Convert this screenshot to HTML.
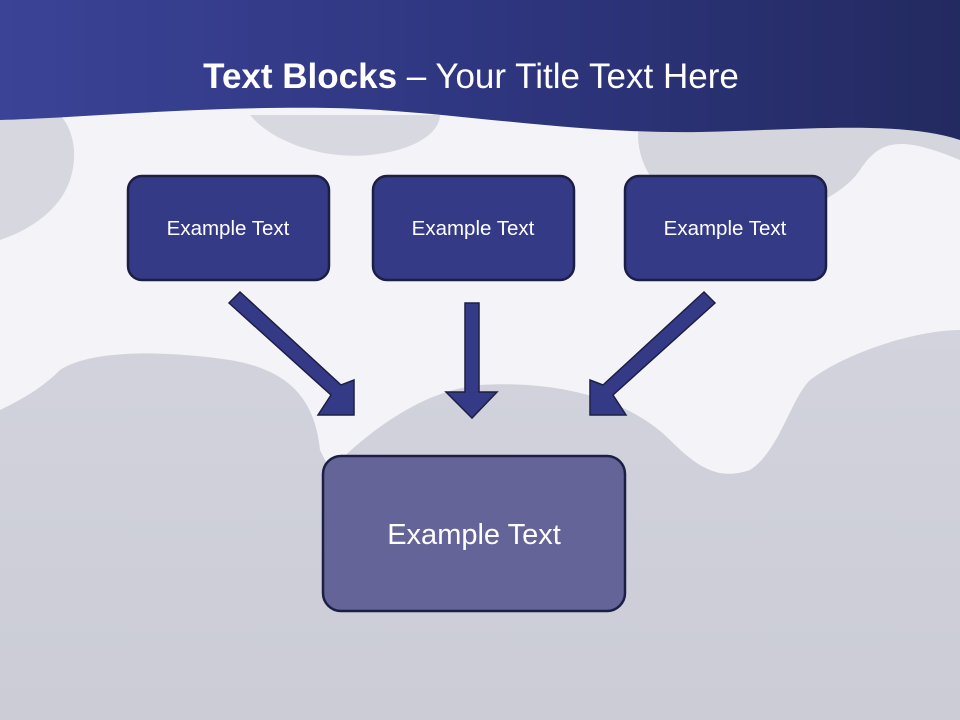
<!DOCTYPE html>
<html><head><style>
body{margin:0;width:960px;height:720px;overflow:hidden;background:#f4f4f8;font-family:"Liberation Sans",sans-serif}
</style></head><body>
<svg width="960" height="720" viewBox="0 0 960 720" xmlns="http://www.w3.org/2000/svg" style="position:absolute;left:0;top:0">
<defs>
<linearGradient id="ban" x1="0" y1="0" x2="1" y2="0">
<stop offset="0" stop-color="#3a4396"/><stop offset="0.5" stop-color="#2f3680"/><stop offset="1" stop-color="#232a60"/>
</linearGradient>
<linearGradient id="blob" x1="0" y1="0" x2="0" y2="1">
<stop offset="0" stop-color="#d2d3dc"/><stop offset="1" stop-color="#cbccd6"/>
</linearGradient>
</defs>
<rect width="960" height="720" fill="#f4f4f8"/>
<path d="M0 410 C20 400 40 390 60 370 C90 350 160 350 230 360 C290 370 315 400 320 450 L330 470 C380 420 430 390 480 385 C560 380 630 400 670 440 C700 470 720 480 750 470 C780 450 790 400 810 380 C850 350 920 330 960 330 L960 720 L0 720 Z" fill="url(#blob)"/>
<path d="M0 115 L0 240 C30 230 60 210 70 180 C80 150 70 125 60 115 Z" fill="#d6d7df"/>
<path d="M250 115 C270 140 320 160 370 155 C420 150 440 130 440 115 Z" fill="#d8d9e0"/>
<path d="M640 120 C630 160 660 210 720 220 C780 225 840 200 860 170 C880 140 900 135 960 160 L960 115 Z" fill="#d4d5dd"/>
<path d="M0 0 H960 V140 C900 120 800 130 700 132 C560 134 450 110 330 108 C200 106 80 118 0 120 Z" fill="url(#ban)"/>
<text x="471" y="88" text-anchor="middle" fill="#fff" font-family="Liberation Sans, sans-serif" font-size="35"><tspan font-weight="bold">Text Blocks</tspan> – Your Title Text Here</text>
<g stroke="#1c1f45" stroke-width="2.5" fill="#343a85">
<rect x="128" y="176" width="201" height="104" rx="14"/>
<rect x="373" y="176" width="201" height="104" rx="14"/>
<rect x="625" y="176" width="201" height="104" rx="14"/>
</g>
<g fill="#fff" font-size="20.5" text-anchor="middle">
<text x="228" y="235">Example Text</text>
<text x="473" y="235">Example Text</text>
<text x="725" y="235">Example Text</text>
</g>
<g fill="#343a85" stroke="#1c1f45" stroke-width="1.5">
<polygon points="465,303 479,303 479,392 497,392 472,418 446,392 465,392"/>
<polygon points="240,292 229,303 331,395 318,415 354,415 354,380 341,385"/>
<polygon points="704,292 715,303 613,395 626,415 590,415 590,380 603,385"/>
</g>
<rect x="323" y="456" width="302" height="155" rx="18" fill="#646498" stroke="#1c1f45" stroke-width="2.5"/>
<text x="474" y="544" fill="#fff" font-size="29" text-anchor="middle">Example Text</text>
</svg>
</body></html>
